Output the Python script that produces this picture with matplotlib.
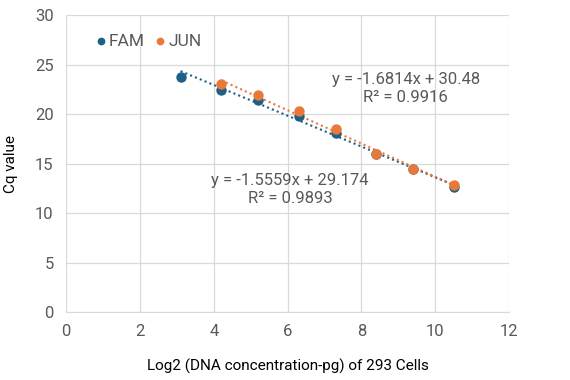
import matplotlib.pyplot as plt
import numpy as np

plt.rcParams['font.family'] = ['Roboto', 'DejaVu Sans']

# data
fam_x = [3.1, 4.2, 5.2, 6.3, 7.3, 8.4, 9.4, 10.5]
fam_y = [23.8, 22.4, 21.4, 19.8, 18.1, 16.0, 14.5, 12.6]
jun_x = [4.2, 5.2, 6.3, 7.3, 8.4, 9.4, 10.5]
jun_y = [23.0, 21.9, 20.3, 18.5, 16.0, 14.5, 12.8]

fam_fit = (-1.5559, 29.174)
jun_fit = (-1.6814, 30.48)

fam_col = "#1f5f86"
jun_col = "#e8793a"
txt = "#595959"

fig = plt.figure(figsize=(5.7, 3.8), dpi=100)
ax = fig.add_axes([0.116, 0.179, 0.777, 0.781])

ax.scatter(fam_x, fam_y, s=42, color=fam_col, zorder=3, label="FAM")
ax.scatter(jun_x, jun_y, s=42, color=jun_col, zorder=4, label="JUN")

xs = np.array([min(fam_x), max(fam_x)])
ax.plot(xs, fam_fit[0] * xs + fam_fit[1], ls=(0, (1, 1.5)), lw=1.5, color=fam_col, zorder=2)
xs = np.array([min(jun_x), max(jun_x)])
ax.plot(xs, jun_fit[0] * xs + jun_fit[1], ls=(0, (1, 1.5)), lw=1.5, color=jun_col, zorder=2)

ax.text(9.2, 22.6, "y = -1.6814x + 30.48\nR² = 0.9916", ha="center", va="center",
        fontsize=12, color=txt, linespacing=1.2)
ax.text(6.07, 12.4, "y = -1.5559x + 29.174\nR² = 0.9893", ha="center", va="center",
        fontsize=12, color=txt, linespacing=1.2)

ax.set_xlim(0, 12)
ax.set_ylim(0, 30)
ax.set_xticks(range(0, 13, 2))
ax.set_yticks(range(0, 31, 5))
ax.grid(True, color="#d9d9d9", lw=0.9)
ax.set_axisbelow(True)
for s in ["top", "right", "left"]:
    ax.spines[s].set_visible(False)
ax.spines["bottom"].set_color("#d9d9d9")
ax.tick_params(length=0, labelsize=12, colors=txt, pad=9)

ax.set_xlabel("Log2 (DNA concentration-pg) of 293 Cells", fontsize=11, color="black", labelpad=14)
ax.set_ylabel("Cq value", fontsize=11, color="black", labelpad=12)

ax.legend(loc="upper left", bbox_to_anchor=(0.02, 0.99), ncol=2, frameon=False,
          handletextpad=-0.15, columnspacing=0.3, markerscale=0.7, handlelength=1.2,
          prop={"size": 12.5}, labelcolor=txt)

fig.savefig("out.png")
